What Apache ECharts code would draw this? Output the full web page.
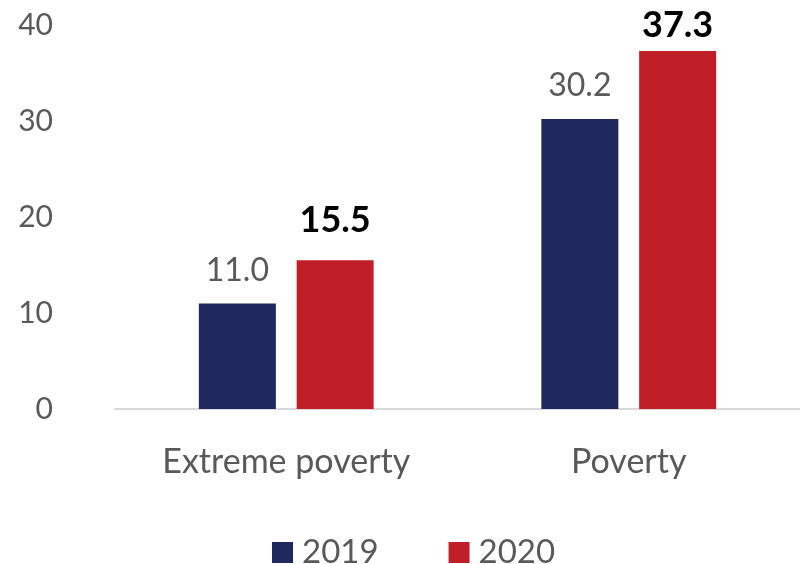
<!DOCTYPE html>
<html><head><meta charset="utf-8">
<script src="https://cdn.jsdelivr.net/npm/echarts@6/dist/echarts.min.js"></script>
<style>html,body{margin:0;padding:0;background:#fff}#c{width:800px;height:564px}</style>
</head><body><div id="c"></div>
<script>
const categories = ['Extreme poverty', 'Poverty'];
const values2019 = [11.0, 30.2];
const values2020 = [15.5, 37.3];
const yTicks = [0, 10, 20, 30, 40];

const FONT = 'Lato';
const chart = echarts.init(document.getElementById('c'));
chart.setOption({
  animation: false,
  textStyle: { fontFamily: FONT },
  grid: { left: 115, right: 0, top: 25, bottom: 155, containLabel: false },
  legend: {
    top: 531, left: 267, itemWidth: 21, itemHeight: 21, itemGap: 70,
    icon: 'rect',
    textStyle: { fontSize: 33, color: '#595959', fontFamily: FONT, padding: [0, 0, 0, 4] },
    data: ['2019', '2020']
  },
  xAxis: {
    type: 'category', data: categories,
    axisLine: { lineStyle: { color: '#d9d9d9', width: 2 } },
    axisTick: { show: false },
    axisLabel: { fontSize: 34, color: '#595959', margin: 36, fontFamily: FONT }
  },
  yAxis: {
    type: 'value', min: yTicks[0], max: yTicks[yTicks.length - 1], interval: 10,
    splitLine: { show: false },
    axisLine: { show: false }, axisTick: { show: false },
    axisLabel: { fontSize: 30, color: '#595959', margin: 62, fontFamily: FONT }
  },
  series: [
    {
      name: '2019', type: 'bar', data: values2019, barWidth: 77, barGap: '27%',
      itemStyle: { color: '#1f295e' },
      label: { show: true, position: 'top', distance: 17, fontSize: 32, color: '#595959',
        formatter: p => p.value.toFixed(1), fontFamily: FONT }
    },
    {
      name: '2020', type: 'bar', barWidth: 77,
      data: values2020.map((v, i) => i === 1 ? { value: v, label: { distance: 8 } } : v),
      itemStyle: { color: '#c01f28' },
      label: { show: true, position: 'top', distance: 22, fontSize: 36, fontWeight: 'bold', color: '#000',
        formatter: p => p.value.toFixed(1), fontFamily: FONT }
    }
  ]
});
</script></body></html>
